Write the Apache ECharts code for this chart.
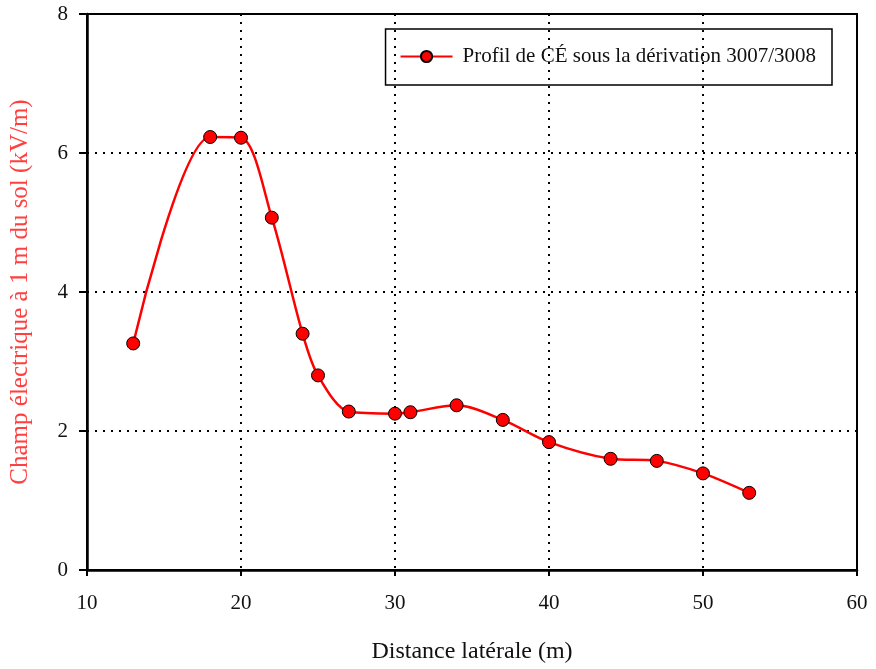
<!DOCTYPE html>
<html><head><meta charset="utf-8">
<script src="https://cdn.jsdelivr.net/npm/echarts@6/dist/echarts.min.js"></script>
<style>html,body{margin:0;padding:0;background:#fff}#c{width:876px;height:669px}</style>
</head><body><div id="c"></div>
<script>
const distances = [13, 18, 20, 22, 24, 25, 27, 30, 31, 34, 37, 40, 44, 47, 50, 53];
const fieldValues = [3.26, 6.23, 6.22, 5.07, 3.40, 2.80, 2.28, 2.25, 2.27, 2.37, 2.16, 1.84, 1.60, 1.57, 1.39, 1.11];
const seriesName = 'Profil de CÉ sous la dérivation 3007/3008';
const xTitle = 'Distance latérale (m)';
const yTitle = 'Champ électrique à 1 m du sol (kV/m)';

const chart = echarts.init(document.getElementById('c'));
const font = '"Liberation Serif", "Times New Roman", serif';
chart.setOption({
  animation: false,
  backgroundColor: '#fff',
  textStyle: {fontFamily: font},
  grid: {left: 87, right: 19, top: 14, bottom: 99, show: true, borderColor: '#000', borderWidth: 2, backgroundColor: 'transparent'},
  legend: {
    show: true, right: 44, top: 29, orient: 'horizontal',
    borderColor: '#000', borderWidth: 1.5, padding: [17, 16, 18, 14],
    itemWidth: 52, itemHeight: 14, itemGap: 10,
    textStyle: {fontFamily: font, fontSize: 21, color: '#111', padding: [0, 0, 0, 5]},
    data: [{name: seriesName}]
  },
  xAxis: {
    type: 'value', min: 10, max: 60, interval: 10,
    name: xTitle, nameLocation: 'middle', nameGap: 70,
    nameTextStyle: {fontFamily: font, fontSize: 24, color: '#111'},
    axisLine: {show: true, lineStyle: {color: '#000', width: 2.5}},
    axisTick: {show: true, length: 6, lineStyle: {color: '#000', width: 2}},
    axisLabel: {fontFamily: font, fontSize: 21, color: '#111', margin: 23},
    splitLine: {show: true, lineStyle: {color: '#000', type: [2, 6], width: 2}}
  },
  yAxis: {
    type: 'value', min: 0, max: 8, interval: 2,
    name: yTitle, nameLocation: 'middle', nameGap: 54,
    nameTextStyle: {fontFamily: font, fontSize: 25, color: '#ff4040'},
    axisLine: {show: true, lineStyle: {color: '#000', width: 2.5}},
    axisTick: {show: true, length: 8, lineStyle: {color: '#000', width: 2}},
    axisLabel: {fontFamily: font, fontSize: 21, color: '#111', margin: 19},
    splitLine: {show: true, lineStyle: {color: '#000', type: [2, 6], width: 2}}
  },
  series: [{
    name: seriesName, type: 'line', smooth: 0.3,
    data: distances.map((d, i) => [d, fieldValues[i]]),
    symbol: 'circle', symbolSize: 13,
    lineStyle: {color: '#ff0000', width: 2.5},
    itemStyle: {color: '#ff0000', borderColor: '#000', borderWidth: 1}
  }]
});
</script></body></html>
